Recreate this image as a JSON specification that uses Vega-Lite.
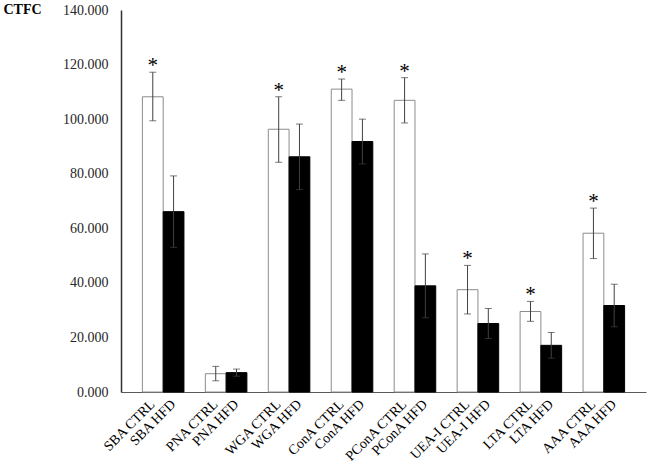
{
  "$schema": "https://vega.github.io/schema/vega-lite/v6.json",
  "width": 525,
  "height": 382,
  "autosize": "none",
  "padding": {"left": 121, "top": 10, "right": 2, "bottom": 73},
  "background": "white",
  "config": {"view": {"stroke": null}},
  "data": {
    "values": [
      {"lectin": "SBA", "group": "CTRL", "label": "SBA CTRL", "mean": 108.2, "lo": 99.4, "hi": 117.2, "sig": "*"},
      {"lectin": "SBA", "group": "HFD", "label": "SBA HFD", "mean": 66.1, "lo": 53.0, "hi": 79.2, "sig": ""},
      {"lectin": "PNA", "group": "CTRL", "label": "PNA CTRL", "mean": 6.7, "lo": 4.1, "hi": 9.4, "sig": ""},
      {"lectin": "PNA", "group": "HFD", "label": "PNA HFD", "mean": 7.1, "lo": 5.8, "hi": 8.4, "sig": ""},
      {"lectin": "WGA", "group": "CTRL", "label": "WGA CTRL", "mean": 96.3, "lo": 84.2, "hi": 108.2, "sig": "*"},
      {"lectin": "WGA", "group": "HFD", "label": "WGA HFD", "mean": 86.2, "lo": 74.2, "hi": 98.2, "sig": ""},
      {"lectin": "ConA", "group": "CTRL", "label": "ConA CTRL", "mean": 111.0, "lo": 106.9, "hi": 114.7, "sig": "*"},
      {"lectin": "ConA", "group": "HFD", "label": "ConA HFD", "mean": 91.8, "lo": 83.6, "hi": 100.0, "sig": ""},
      {"lectin": "PConA", "group": "CTRL", "label": "PConA CTRL", "mean": 106.9, "lo": 98.6, "hi": 115.2, "sig": "*"},
      {"lectin": "PConA", "group": "HFD", "label": "PConA HFD", "mean": 38.9, "lo": 27.2, "hi": 50.6, "sig": ""},
      {"lectin": "UEA-I", "group": "CTRL", "label": "UEA-I CTRL", "mean": 37.5, "lo": 28.6, "hi": 46.4, "sig": "*"},
      {"lectin": "UEA-I", "group": "HFD", "label": "UEA-I HFD", "mean": 25.1, "lo": 19.6, "hi": 30.6, "sig": ""},
      {"lectin": "LTA", "group": "CTRL", "label": "LTA CTRL", "mean": 29.5, "lo": 25.9, "hi": 33.2, "sig": "*"},
      {"lectin": "LTA", "group": "HFD", "label": "LTA HFD", "mean": 17.1, "lo": 12.4, "hi": 21.8, "sig": ""},
      {"lectin": "AAA", "group": "CTRL", "label": "AAA CTRL", "mean": 58.2, "lo": 48.9, "hi": 67.4, "sig": "*"},
      {"lectin": "AAA", "group": "HFD", "label": "AAA HFD", "mean": 31.7, "lo": 23.9, "hi": 39.5, "sig": ""}
    ]
  },
  "encoding": {
    "x": {
      "field": "lectin",
      "type": "nominal",
      "sort": null,
      "scale": {"paddingInner": 0.34, "paddingOuter": 0.34},
      "axis": {"labels": false, "ticks": false, "title": null, "domainColor": "#595959", "domainWidth": 1}
    },
    "xOffset": {"field": "group", "type": "nominal", "sort": ["CTRL", "HFD"], "scale": {"paddingInner": 0, "paddingOuter": 0}}
  },
  "layer": [
    {
      "mark": {"type": "bar", "strokeWidth": 1},
      "encoding": {
        "y": {
          "field": "mean",
          "type": "quantitative",
          "scale": {"domain": [0, 140], "nice": false, "zero": true},
          "axis": {
            "values": [0, 20, 40, 60, 80, 100, 120, 140],
            "format": ".3f",
            "grid": false,
            "ticks": false,
            "labelPadding": 13,
            "labelFont": "Liberation Serif",
            "labelFontSize": 14,
            "labelColor": "#262626",
            "domainColor": "#333333",
            "domainWidth": 1.5,
            "title": "CTFC",
            "titleAngle": 0,
            "titleAlign": "left",
            "titleBaseline": "alphabetic",
            "titleX": -118,
            "titleY": 3,
            "titleFont": "Liberation Serif",
            "titleFontWeight": "bold",
            "titleFontSize": 14,
            "titleColor": "#000000"
          }
        },
        "fill": {"field": "group", "type": "nominal", "scale": {"domain": ["CTRL", "HFD"], "range": ["#ffffff", "#000000"]}, "legend": null},
        "stroke": {"field": "group", "type": "nominal", "scale": {"domain": ["CTRL", "HFD"], "range": ["#8c8c8c", "#000000"]}, "legend": null}
      }
    },
    {
      "mark": {"type": "rule", "color": "#404040", "strokeWidth": 1},
      "encoding": {"y": {"field": "lo", "type": "quantitative"}, "y2": {"field": "hi"}}
    },
    {
      "mark": {"type": "tick", "color": "#404040", "size": 7, "thickness": 1},
      "encoding": {"y": {"field": "hi", "type": "quantitative"}}
    },
    {
      "mark": {"type": "tick", "color": "#404040", "size": 7, "thickness": 1},
      "encoding": {"y": {"field": "lo", "type": "quantitative"}}
    },
    {
      "mark": {"type": "text", "font": "Liberation Serif", "fontSize": 21, "baseline": "alphabetic", "align": "center", "dy": 0, "color": "#000000"},
      "encoding": {"y": {"field": "hi", "type": "quantitative"}, "text": {"field": "sig"}}
    },
    {
      "mark": {"type": "text", "font": "Liberation Serif", "fontSize": 14, "angle": 315, "align": "right", "baseline": "middle", "color": "#000000"},
      "encoding": {"y": {"datum": -3.8, "type": "quantitative"}, "text": {"field": "label"}}
    }
  ]
}
